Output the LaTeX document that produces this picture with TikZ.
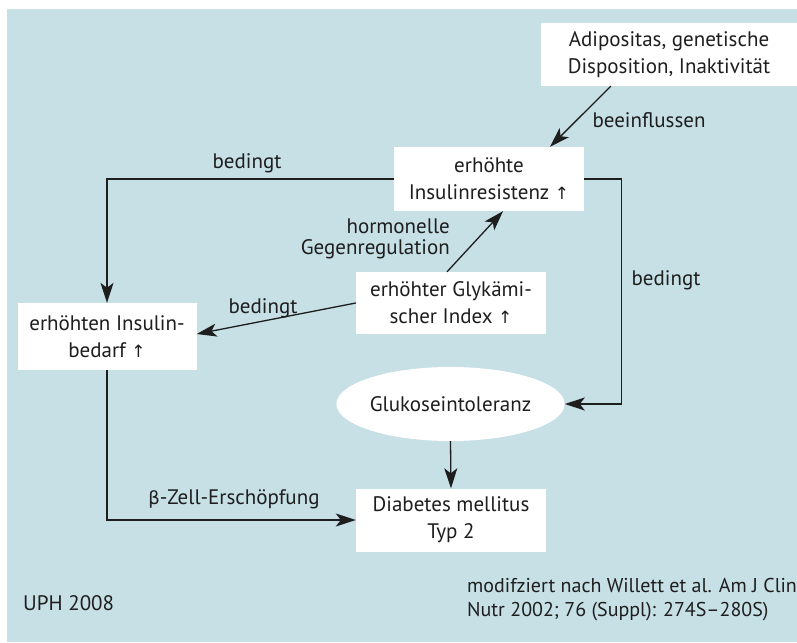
\documentclass[tikz,border=0pt]{standalone}
\usepackage{fontspec}
\setmainfont{PT Sans}
\newfontfamily\symf{DejaVu Sans}
\usetikzlibrary{arrows.meta,calc,shapes.geometric}
\definecolor{bgblue}{RGB}{198,224,230}
\definecolor{ink}{RGB}{30,30,30}
\newcommand{\up}{{\symf\fontsize{17}{17}\selectfont\char"2191}}
\tikzset{
  box/.style={fill=white, draw=none, align=center, inner sep=0pt, text=ink, font=\fontsize{21}{27}\selectfont},
  lab/.style={text=ink, inner sep=0pt, font=\fontsize{21}{21}\selectfont},
  conn/.style={draw=ink, line width=1.3pt, -{Stealth[length=20pt,width=13pt,inset=5pt]}},
  plain/.style={draw=ink, line width=1.3pt}
}
\begin{document}
\begin{tikzpicture}[x=1pt,y=-1pt]
\useasboundingbox (0,0) rectangle (797,642);
\fill[bgblue] (7,9) rectangle (797,642);

\node[box, minimum width=256pt, minimum height=63pt] (adip) at (669,54.5) {Adipositas, genetische\\Disposition, Inaktivität};
\node[box, minimum width=190pt, minimum height=64pt] (resist) at (489,179) {erhöhte\\Insulinresistenz \up};
\node[box, minimum width=179pt, minimum height=67pt] (bedarf) at (107,336.5) {erhöhten Insulin-\\bedarf \up};
\node[box, minimum width=190pt, minimum height=62pt] (glyk) at (451,303) {erhöhter Glykämi-\\scher Index \up};
\node[box, ellipse, minimum width=189pt, minimum height=74pt] (gluk) at (450.5,404) {Glukoseintoleranz};
\node[box, minimum width=190pt, minimum height=63pt] (diab) at (451,520) {Diabetes mellitus\\Typ 2};

\draw[conn] ($(adip.south west)+(70,0)$) -- ($(resist.north)+(61,0)$);
\draw[conn] (resist.west) -| (bedarf.north);
\draw[conn] (resist.east) -- ++(37,0) |- (gluk.east);
\draw[conn] (glyk.west) -- ($(bedarf.east)+(0,-2.5)$);
\draw[conn] ($(glyk.north)+(-4,0)$) -- ($(resist.south)+(14,0)$);
\draw[conn] (gluk.south) -- (diab.north);
\draw[conn] (bedarf.south) |- (diab.west);

\node[lab] (l1) at (649,120) {beeinflussen};
\node[lab] (l2) at (247,163) {bedingt};
\node[lab, align=right, anchor=east, font=\fontsize{21}{21}\selectfont] (l3) at (450,238.5) {hormonelle\\Gegenregulation};
\node[lab] (l4) at (263,308) {bedingt};
\node[lab] (l5) at (666,280) {bedingt};
\node[lab] (l6) at (234,499) {{\symf\fontsize{18}{18}\selectfont β}-Zell-Erschöpfung};
\node[lab, anchor=west] (l7) at (23,603) {UPH 2008};
\node[lab, anchor=west, align=left, font=\fontsize{20}{24}\selectfont] (l8) at (467,600) {modifziert nach Willett et al. Am J Clin\\Nutr 2002; 76 (Suppl): 274S–280S)};
\end{tikzpicture}
\end{document}
